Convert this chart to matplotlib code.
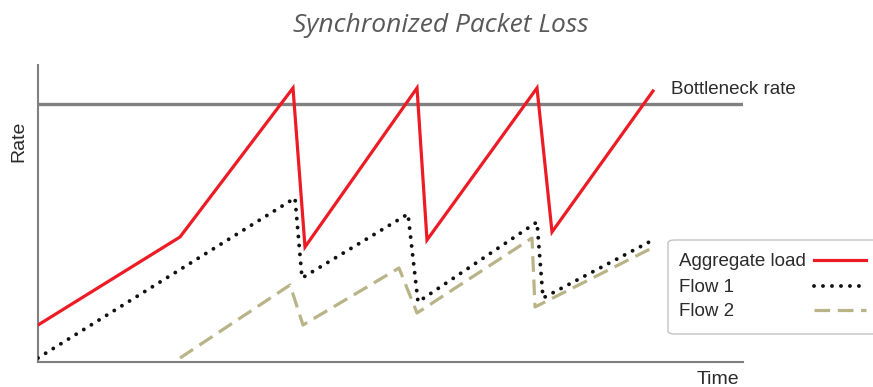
import matplotlib
matplotlib.use("Agg")
import matplotlib.pyplot as plt
from matplotlib.lines import Line2D
from matplotlib.patches import FancyBboxPatch

# Data (arbitrary units: time 0..705, rate 0..297)
agg_t = [0, 142, 255, 267, 379, 389, 499, 514, 615]
agg_r = [37, 125, 274, 115, 274, 122, 274, 130, 271]
f1_t = [0, 257, 264, 370, 380, 499, 505, 615]
f1_r = [4, 164, 84, 148, 60, 140, 64, 122]
f2_t = [142, 252, 265, 361, 379, 494, 497, 614]
f2_r = [4, 77, 37, 94, 49, 124, 55, 114]
bottleneck = 258
labels = ["Aggregate load", "Flow 1", "Flow 2"]

RED = "#ED1C24"
KHAKI = "#B9B487"
GRAY = "#808080"
TXT = "#2b2b2b"

W, H = 873, 387
plt.rcParams['font.family'] = ['Liberation Sans', 'DejaVu Sans']

fig = plt.figure(figsize=(W/100, H/100), dpi=100)
ax = fig.add_axes([38/W, 1-362/H, (743-38)/W, (362-65)/H])
ax.set_xlim(0, 705)
ax.set_ylim(0, 297)

ax.axhline(bottleneck, color=GRAY, lw=2.4, zorder=1)
styles = [
    dict(color=RED, lw=2.3, solid_joinstyle='miter'),
    dict(color="#111111", lw=2.8, linestyle=(0, (0.01, 2.3)), dash_capstyle='round'),
    dict(color=KHAKI, lw=2.3, linestyle=(0, (4.9, 2.4)), dash_capstyle='butt'),
]
ax.plot(agg_t, agg_r, zorder=4, **styles[0])
ax.plot(f1_t, f1_r, zorder=3, **styles[1])
ax.plot(f2_t, f2_r, zorder=2, **styles[2])

for s in ['top', 'right']:
    ax.spines[s].set_visible(False)
for s in ['left', 'bottom']:
    ax.spines[s].set_color(GRAY)
    ax.spines[s].set_linewidth(1.5)
ax.set_xticks([])
ax.set_yticks([])

ax.text(633, bottleneck + 14, "Bottleneck rate",
        fontsize=13.5, color=TXT, va='center', ha='left')
fig.text(19/W, 1-141/H, "Rate", rotation=90, fontsize=14,
         color=TXT, ha='center', va='center')
fig.text(718/W, 1-380/H, "Time", fontsize=14, color=TXT,
         ha='center', va='center')
fig.text(441/W, 1-25/H, "Synchronized Packet Loss", fontsize=19,
         style='italic', color="#595959", ha='center', va='center',
         family=['Open Sans', 'DejaVu Sans'])

# Legend (drawn manually: text left-aligned, sample lines at right)
box = FancyBboxPatch((668/W, 1-334/H), (900-668)/W, (334-240)/H,
                     boxstyle="round,pad=0,rounding_size=0.008",
                     transform=fig.transFigure, facecolor="white",
                     edgecolor="#C4C4C4", lw=1.0, clip_on=False)
fig.add_artist(box)
rows_y = [261, 287, 311]
for lab, st, yy in zip(labels, styles, rows_y):
    fig.text(679/W, 1-yy/H, lab, fontsize=13.5, color=TXT,
             ha='left', va='center')
    fig.add_artist(Line2D([814/W, 866/W], [1-(yy-1)/H, 1-(yy-1)/H],
                          transform=fig.transFigure, **st))

fig.savefig("out.png", dpi=100)
